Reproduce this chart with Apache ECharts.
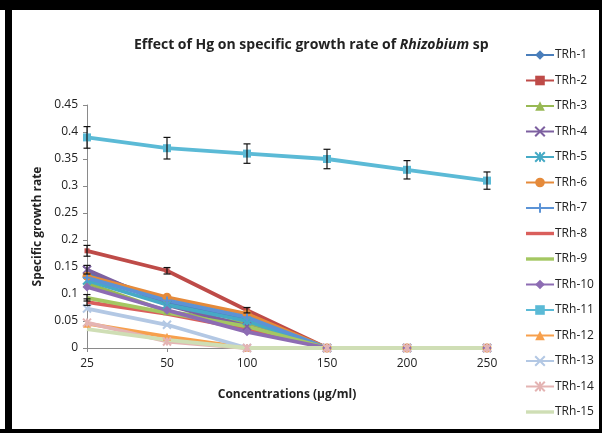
<!DOCTYPE html>
<html>
<head>
<meta charset="utf-8">
<script src="https://cdn.jsdelivr.net/npm/echarts@6/dist/echarts.min.js"></script>
<style>
  html, body { margin: 0; padding: 0; background: #fff; }
  #chart { width: 602px; height: 433px; }
</style>
</head>
<body>
<div id="chart"></div>
<script>
// concentrations (µg/ml)
const concentrations = ['25', '50', '100', '150', '200', '250'];

// specific growth rate per isolate
const trh1 = [0.140, 0.086, 0.055, 0, 0, 0];
const trh2 = [0.180, 0.143, 0.070, 0, 0, 0];
const trh3 = [0.120, 0.068, 0.045, 0, 0, 0];
const trh4 = [0.145, 0.080, 0.040, 0, 0, 0];
const trh5 = [0.125, 0.080, 0.050, 0, 0, 0];
const trh6 = [0.133, 0.094, 0.063, 0, 0, 0];
const trh7 = [0.130, 0.088, 0.057, 0, 0, 0];
const trh8 = [0.085, 0.063, 0.035, 0, 0, 0];
const trh9 = [0.093, 0.065, 0.040, 0, 0, 0];
const trh10 = [0.113, 0.070, 0.030, 0, 0, 0];
const trh11 = [0.390, 0.370, 0.360, 0.350, 0.330, 0.310];
const trh12 = [0.045, 0.021, 0, 0, 0, 0];
const trh13 = [0.073, 0.043, 0, 0, 0, 0];
const trh14 = [0.047, 0.012, 0, 0, 0, 0];
const trh15 = [0.035, 0.015, 0, 0, 0, 0];

// error bar half-widths (only those that are visible)
const errTrh2 = [0.010, 0.006, 0.005, 0, 0, 0];
const errTrh4 = [0.008, 0, 0, 0, 0, 0];
const errTrh9 = [0.006, 0, 0, 0, 0, 0];
const errTrh8 = [0.006, 0, 0, 0, 0, 0];
const errTrh11 = [0.020, 0.020, 0.018, 0.018, 0.017, 0.016];

const xMark = 'path://M0,0L10,10M10,0L0,10';
const starMark = 'path://M0,0L10,10M10,0L0,10M5,0L5,10';
const plusMark = 'path://M5,0L5,10M0,5L10,5';
// plain line icon for series drawn without markers
const plainIcon = 'path://M0,0L0,0M0,4.3L28,4.3L28,7.7L0,7.7ZM28,12L28,12';

const defs = [
    { name: 'TRh-1', data: trh1, color: '#4A7EBB', symbol: 'diamond', size: 8 },
    { name: 'TRh-2', data: trh2, color: '#BE4B48', symbol: 'rect', size: 5 },
    { name: 'TRh-3', data: trh3, color: '#98B954', symbol: 'triangle', size: 8 },
    { name: 'TRh-4', data: trh4, color: '#7D60A0', symbol: xMark, size: 8, stroke: true },
    { name: 'TRh-5', data: trh5, color: '#46AAC5', symbol: starMark, size: 8, stroke: true },
    { name: 'TRh-6', data: trh6, color: '#E58A3A', symbol: 'circle', size: 9 },
    { name: 'TRh-7', data: trh7, color: '#5B93D6', symbol: plusMark, size: 8, stroke: true },
    { name: 'TRh-8', data: trh8, color: '#DA5F5C', symbol: 'none', size: 0 },
    { name: 'TRh-9', data: trh9, color: '#A4C762', symbol: 'none', size: 0 },
    { name: 'TRh-10', data: trh10, color: '#8D6CB3', symbol: 'diamond', size: 9 },
    { name: 'TRh-11', data: trh11, color: '#5BBAD6', symbol: 'rect', size: 8 },
    { name: 'TRh-12', data: trh12, color: '#F7A04D', symbol: 'triangle', size: 8 },
    { name: 'TRh-13', data: trh13, color: '#B3C8E4', symbol: xMark, size: 8, stroke: true },
    { name: 'TRh-14', data: trh14, color: '#E4B4B3', symbol: starMark, size: 8, stroke: true },
    { name: 'TRh-15', data: trh15, color: '#CFDEB5', symbol: 'none', size: 0 }
];

const errDefs = [
    { data: trh2, err: errTrh2 },
    { data: trh4, err: errTrh4 },
    { data: trh9, err: errTrh9 },
    { data: trh8, err: errTrh8 },
    { data: trh11, err: errTrh11 }
];

const font = '"Open Sans", sans-serif';

const lineSeries = defs.map(d => ({
    name: d.name,
    type: 'line',
    data: d.data,
    symbol: d.symbol,
    symbolSize: d.size,
    showSymbol: d.symbol !== 'none',
    lineStyle: { color: d.color, width: 3.8 },
    itemStyle: d.stroke
        ? { color: d.color, borderColor: d.color, borderWidth: 2 }
        : { color: d.color, borderWidth: 0 },
    emphasis: { disabled: true },
    z: 2
}));

const errData = [];
errDefs.forEach(e => {
    e.data.forEach((v, i) => {
        if (e.err[i] > 0) errData.push([i, v - e.err[i], v + e.err[i]]);
    });
});

const errorSeries = {
    type: 'custom',
    name: 'err',
    data: errData,
    z: 5,
    renderItem: function (params, api) {
        const lo = api.coord([api.value(0), api.value(1)]);
        const hi = api.coord([api.value(0), api.value(2)]);
        const w = 3.5;
        const st = { stroke: '#111', lineWidth: 1.2 };
        return {
            type: 'group',
            children: [
                { type: 'line', shape: { x1: lo[0], y1: lo[1], x2: hi[0], y2: hi[1] }, style: st },
                { type: 'line', shape: { x1: lo[0] - w, y1: lo[1], x2: lo[0] + w, y2: lo[1] }, style: st },
                { type: 'line', shape: { x1: hi[0] - w, y1: hi[1], x2: hi[0] + w, y2: hi[1] }, style: st }
            ]
        };
    }
};

const chart = echarts.init(document.getElementById('chart'), null, { renderer: 'canvas' });
chart.setOption({
    animation: false,
    backgroundColor: '#fff',
    title: {
        text: '{a|Effect of Hg on specific growth rate of }{b|Rhizobium}{a| sp}',
        left: 129,
        top: 33,
        textStyle: {
            rich: {
                a: { fontFamily: font, fontSize: 14, fontWeight: 'bold', color: '#222' },
                b: { fontFamily: font, fontSize: 14, fontWeight: 'bold', fontStyle: 'italic', color: '#222' }
            }
        }
    },
    legend: {
        orient: 'vertical',
        left: 520,
        top: 44,
        itemWidth: 28,
        itemHeight: 12,
        itemGap: 13.5,
        data: defs.map(d => d.symbol === 'none'
            ? { name: d.name, icon: plainIcon, itemStyle: { color: d.color } }
            : d.name),
        textStyle: { fontFamily: font, fontSize: 12, color: '#222', padding: [0, 0, 0, -4] }
    },
    grid: { left: 87, right: 115, top: 105, bottom: 85 },
    xAxis: {
        type: 'category',
        data: concentrations,
        boundaryGap: false,
        name: 'Concentrations (µg/ml)',
        nameLocation: 'middle',
        nameGap: 41,
        nameTextStyle: { fontFamily: font, fontSize: 12, fontWeight: 'bold', color: '#222' },
        axisLine: { lineStyle: { color: '#8a8a8a' } },
        axisTick: { show: true, alignWithLabel: true, length: 4, lineStyle: { color: '#8a8a8a' } },
        axisLabel: { fontFamily: font, fontSize: 12, color: '#222', margin: 10 },
        splitLine: { show: false }
    },
    yAxis: {
        type: 'value',
        min: 0,
        max: 0.45,
        interval: 0.05,
        name: 'Specific growth rate',
        nameLocation: 'middle',
        nameGap: 38,
        nameTextStyle: { fontFamily: font, fontSize: 12, fontWeight: 'bold', color: '#222' },
        axisLine: { show: true, lineStyle: { color: '#8a8a8a' } },
        axisTick: { show: true, length: 4, lineStyle: { color: '#8a8a8a' } },
        axisLabel: { fontFamily: font, fontSize: 12, color: '#222', margin: 9 },
        splitLine: { show: false }
    },
    graphic: [
        { type: 'rect', shape: { x: 0, y: 0, width: 602, height: 10 }, style: { fill: '#000' } },
        { type: 'rect', shape: { x: 5, y: 0, width: 7, height: 433 }, style: { fill: '#000' } },
        { type: 'rect', shape: { x: 599, y: 0, width: 3, height: 433 }, style: { fill: '#000' } },
        { type: 'rect', shape: { x: 0, y: 429, width: 602, height: 4 }, style: { fill: '#000' } }
    ],
    series: lineSeries.concat([errorSeries])
});
</script>
</body>
</html>
